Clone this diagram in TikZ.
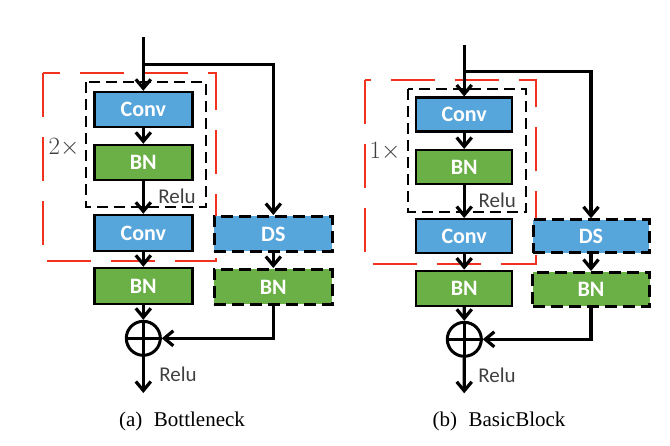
\documentclass[tikz,border=0pt]{standalone}
\usepackage{fontspec}
\setmainfont{Liberation Serif}
\newfontfamily\carlito{Carlito}
\usetikzlibrary{arrows.meta}
\definecolor{boxblue}{RGB}{86,165,219}
\definecolor{boxgreen}{RGB}{106,176,70}
\definecolor{redd}{RGB}{240,50,30}
\definecolor{relugray}{RGB}{64,64,64}
\tikzset{
  arr/.style={line width=3.2pt,-{Straight Barb[length=9pt,width=15pt,line width=3.2pt]}},
  blk/.style={draw=black,line width=2.4pt,font=\carlito\bfseries\fontsize{22}{22}\selectfont,text=white,inner sep=0pt},
  conv/.style={blk,fill=boxblue},
  bn/.style={blk,fill=boxgreen},
  dsblk/.style={blk,dash pattern=on 12pt off 6pt,line width=3pt},
  blackdash/.style={draw=black,line width=2pt,dash pattern=on 11pt off 6pt},
  reddash/.style={draw=redd,line width=1.6pt,dash pattern=on 44pt off 20pt},
  sum/.style={circle,draw=black,line width=3pt,minimum size=34pt,inner sep=0pt},
  relu/.style={font=\carlito\fontsize{21}{21}\selectfont,text=relugray,inner sep=0pt},
  times/.style={font=\fontsize{23}{23}\selectfont,text=relugray,inner sep=0pt},
  capt/.style={font=\fontsize{21}{21}\selectfont,inner sep=0pt}
}
\begin{document}
\begin{tikzpicture}[x=1pt,y=-1pt]
\useasboundingbox (0,0) rectangle (670,446);
% ---------------- (a) Bottleneck ----------------
\draw[reddash] (42.7,73.3) rectangle (215.7,261);
\draw[blackdash] (86,82.3) rectangle (206,207.3);
\node[conv,minimum width=98pt,minimum height=35pt] (conv1a) at (143.3,109.5) {Conv};
\node[bn,minimum width=98pt,minimum height=35pt] (bn1a) at (143.3,162.5) {BN};
\node[conv,minimum width=98pt,minimum height=36pt] (conv2a) at (143.3,233) {Conv};
\node[bn,minimum width=98pt,minimum height=36pt] (bn2a) at (143.3,286) {BN};
\node[dsblk,fill=boxblue,minimum width=118pt,minimum height=35pt] (dsa) at (273.3,234) {DS};
\node[dsblk,fill=boxgreen,minimum width=118pt,minimum height=35pt] (dbna) at (273.3,287) {BN};
\node[sum] (suma) at (143.3,338.3) {};
\draw[line width=2.6pt] (suma.north) -- (suma.south) (suma.west) -- (suma.east);
\coordinate (ina) at (143.3,37);
\coordinate (bra) at (143.3,64.3);
\coordinate (outa) at (143.3,393);
\draw[arr] (ina) -- (conv1a);
\draw[arr] (bra) -| (dsa.north);
\draw[arr] (conv1a) -- (bn1a);
\draw[arr] (bn1a) -- (conv2a);
\draw[arr] (conv2a) -- (bn2a);
\draw[arr] (bn2a) -- (suma);
\draw[arr] (dsa) -- (dbna);
\draw[arr] (dbna.south) |- (suma.east);
\draw[arr] (suma) -- (outa);
\node[relu] (relu1a) at (177,196) {Relu};
\node[relu] (relu2a) at (178,374) {Relu};
\node[times] (ta) at (64,148) {$2\times$};
\node[capt] (capa) at (182,421.7) {(a)\hspace{0.55em}Bottleneck};
% ---------------- (b) BasicBlock ----------------
\draw[reddash] (365,80) rectangle (535.7,264.3);
\draw[blackdash] (408.3,89) rectangle (525.7,211.7);
\node[conv,minimum width=96pt,minimum height=34pt] (conv1b) at (464.2,114.7) {Conv};
\node[bn,minimum width=96pt,minimum height=34pt] (bn1b) at (464.2,167.2) {BN};
\node[conv,minimum width=96pt,minimum height=33.5pt] (conv2b) at (464.2,236) {Conv};
\node[bn,minimum width=96pt,minimum height=35pt] (bn2b) at (464.2,288.3) {BN};
\node[dsblk,fill=boxblue,minimum width=116pt,minimum height=33pt] (dsb) at (591,236.3) {DS};
\node[dsblk,fill=boxgreen,minimum width=117pt,minimum height=34pt] (dbnb) at (591,289.5) {BN};
\node[sum] (sumb) at (464.3,339.3) {};
\draw[line width=2.6pt] (sumb.north) -- (sumb.south) (sumb.west) -- (sumb.east);
\coordinate (inb) at (464.2,45);
\coordinate (brb) at (464.2,71.7);
\coordinate (outb) at (464.2,393.3);
\draw[arr] (inb) -- (conv1b);
\draw[arr] (brb) -| (dsb.north);
\draw[arr] (conv1b) -- (bn1b);
\draw[arr] (bn1b) -- (conv2b);
\draw[arr] (conv2b) -- (bn2b);
\draw[arr] (bn2b) -- (sumb);
\draw[arr] (dsb) -- (dbnb);
\draw[arr] (dbnb.south) |- (sumb.east);
\draw[arr] (sumb) -- (outb);
\node[relu] (relu1b) at (497.3,200) {Relu};
\node[relu] (relu2b) at (497,375) {Relu};
\node[times] (tb) at (385,151.7) {$1\times$};
\node[capt] (capb) at (499,421.7) {(b)\hspace{0.55em}BasicBlock};
\end{tikzpicture}
\end{document}
